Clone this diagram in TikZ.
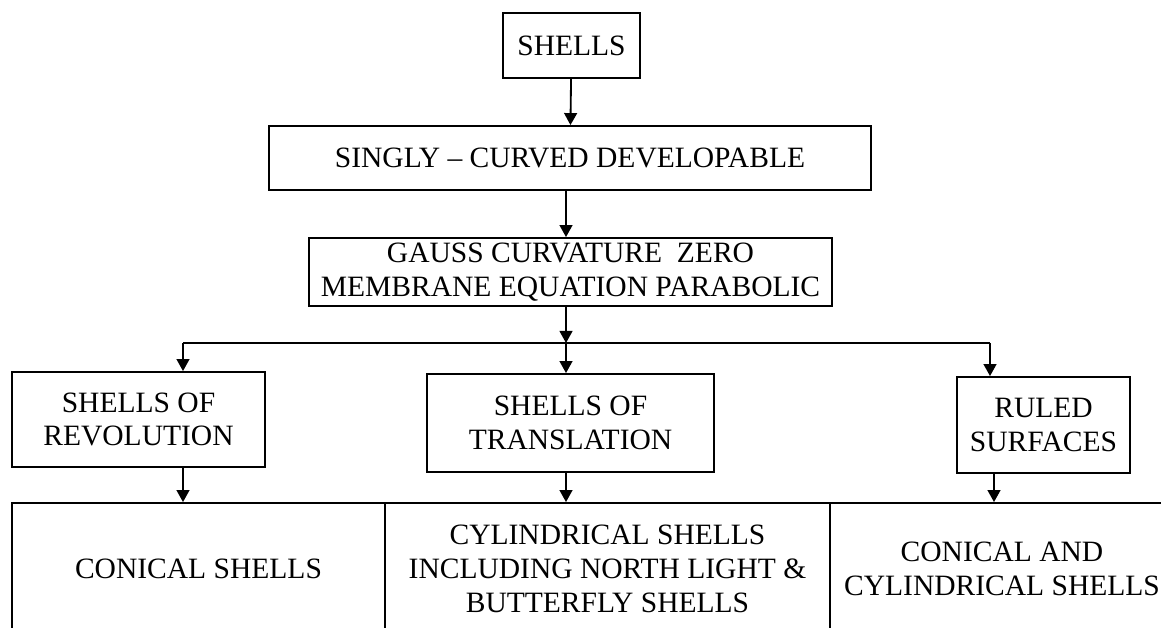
\documentclass[tikz,border=0pt]{standalone}
\usepackage{fontspec}
\setmainfont{Liberation Serif}
\usetikzlibrary{arrows.meta}

\begin{document}
\begin{tikzpicture}[x=0.025cm,y=-0.025cm,line width=1.3pt,
	>={Triangle[length=0.3cm,width=0.32cm]},
	box/.style={draw,rectangle,align=center,inner sep=0pt,
		font=\fontsize{21}{24}\selectfont}]
	\useasboundingbox (0,0) rectangle (1161,628);
	\clip (0,0) rectangle (1161,628);
	
	%BOXES
	\node[box,minimum width=3.425cm,minimum height=1.625cm] (shells) at (571.5,45.5) {SHELLS};
	\node[box,minimum width=15.05cm,minimum height=1.6cm] (singly) at (570,158) {SINGLY -- CURVED DEVELOPABLE};
	\node[box,minimum width=13.075cm,minimum height=1.7cm] (gauss) at (570.5,272) {GAUSS CURVATURE\ \ ZERO \\ MEMBRANE EQUATION PARABOLIC};
	%
	\node[box,minimum width=6.325cm,minimum height=2.375cm] (rev) at (138.5,419.5) {SHELLS OF \\ REVOLUTION};
	\node[box,minimum width=7.175cm,minimum height=2.45cm] (trans) at (570.5,423) {SHELLS OF \\ TRANSLATION};
	\node[box,minimum width=4.325cm,minimum height=2.4cm] (ruled) at (1043.5,425) {RULED \\ SURFACES};
	%
	\node[box,minimum width=9.325cm,minimum height=3.3cm] (conic) at (198.5,569) {CONICAL SHELLS};
	\node[box,minimum width=11.125cm,minimum height=3.3cm] (cyl) at (607.5,569) {CYLINDRICAL SHELLS \\ INCLUDING NORTH LIGHT \& \\ BUTTERFLY SHELLS};
	\node[box,minimum width=8.6cm,minimum height=3.3cm] (both) at (1002,569) {CONICAL AND \\ CYLINDRICAL SHELLS};
	
	%SPLIT
	\coordinate (mid) at (566,343);
	\coordinate (lt) at (183,343);
	\coordinate (rt) at (990,343);
	\coordinate (rb) at (994,343);
	
	%ARROWS
	\draw[->] (shells) -- (singly);
	\draw[->] (singly.south -| mid) -- (gauss.north -| mid);
	\draw[->] (gauss.south -| mid) -- (mid);
	\draw (lt) -- (rt);
	\draw[->] (lt) -- (lt |- rev.north);
	\draw[->] (mid) -- (mid |- trans.north);
	\draw[->] (rt) -- (rt |- ruled.north);
	%
	\draw[->] (lt |- rev.south) -- (lt |- conic.north);
	\draw[->] (mid |- trans.south) -- (mid |- cyl.north);
	\draw[->] (rb |- ruled.south) -- (rb |- both.north);
\end{tikzpicture}
\end{document}
